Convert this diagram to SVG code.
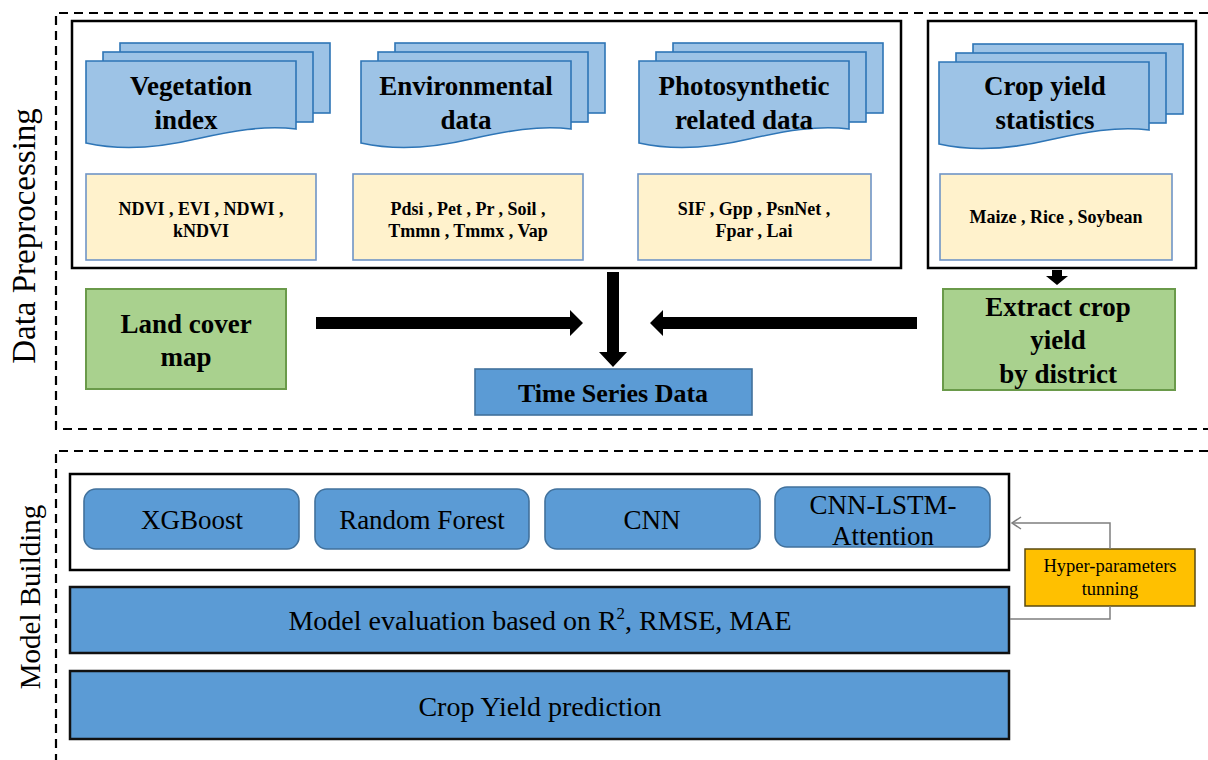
<svg xmlns="http://www.w3.org/2000/svg" width="1208" height="760" viewBox="0 0 1208 760">
<style>
.dash{fill:none;stroke:#000;stroke-width:2.2;stroke-dasharray:9 6}
.frame{fill:#fff;stroke:#000;stroke-width:2.5}
.doc{fill:#9dc3e6;stroke:#2e75b6;stroke-width:1.6}
.ybox{fill:#fff2cc;stroke:#6f94c6;stroke-width:1.6}
.green{fill:#a9d18e;stroke:#6a9a4a;stroke-width:2}
.blue{fill:#5b9bd5;stroke:#41719c;stroke-width:1.6}
.bar{fill:#5b9bd5;stroke:#111;stroke-width:2.5}
.hyper{fill:#ffc000;stroke:#5a4a10;stroke-width:1.5}
.tb{font-family:"Liberation Serif","Times New Roman",serif;font-weight:bold;fill:#000;text-anchor:middle}
.tr{font-family:"Liberation Serif","Times New Roman",serif;fill:#000;text-anchor:middle}
.h{font-size:27px}
.s{font-size:18px}
.m{font-size:27px}
.conn{fill:none;stroke:#7f7f7f;stroke-width:1.5}
</style>
<defs>
<g id="docs">
<rect class="doc" x="34" y="-18" width="210" height="70"/>
<rect class="doc" x="17" y="-9" width="210" height="70"/>
<path class="doc" d="M0,0 H210 V68 C178,64 146,70 110,78 C72,87 36,90 0,82 Z"/>
</g>
</defs>

<!-- section frames -->
<g id="sections">
<path class="dash" d="M1208,13 H56 V429 H1208"/>
<path class="dash" d="M1208,451 H56 V760"/>
<text class="tr" font-size="33" transform="translate(35,236) rotate(-90)">Data Preprocessing</text>
<text class="tr" font-size="29" transform="translate(40,597) rotate(-90)">Model Building</text>
</g>

<g id="input-frame">
<rect class="frame" x="72" y="21" width="829" height="247"/>
</g>
<g id="crop-frame">
<rect class="frame" x="928" y="21" width="268" height="247"/>
</g>

<g id="vegetation">
<use href="#docs" x="86" y="61"/>
<text class="tb h" x="191" y="95">Vegetation</text>
<text class="tb h" x="186" y="129">index</text>
</g>
<g id="environmental">
<use href="#docs" x="361" y="61"/>
<text class="tb h" x="466" y="95">Environmental</text>
<text class="tb h" x="466" y="129">data</text>
</g>
<g id="photosynthetic">
<use href="#docs" x="639" y="61"/>
<text class="tb h" x="744" y="95">Photosynthetic</text>
<text class="tb h" x="744" y="129">related data</text>
</g>
<g id="cropstats">
<use href="#docs" x="939" y="62"/>
<text class="tb h" x="1045" y="95">Crop yield</text>
<text class="tb h" x="1045" y="129">statistics</text>
</g>

<g id="veg-vars">
<rect class="ybox" x="86" y="174" width="230" height="86"/>
<text class="tb s" x="201" y="215">NDVI , EVI , NDWI ,</text>
<text class="tb s" x="201" y="237">kNDVI</text>
</g>
<g id="env-vars">
<rect class="ybox" x="353" y="174" width="230" height="86"/>
<text class="tb s" x="468" y="215">Pdsi , Pet , Pr , Soil ,</text>
<text class="tb s" x="468" y="237">Tmmn , Tmmx , Vap</text>
</g>
<g id="photo-vars">
<rect class="ybox" x="638" y="174" width="233" height="86"/>
<text class="tb s" x="754" y="215">SIF , Gpp , PsnNet ,</text>
<text class="tb s" x="754" y="237">Fpar , Lai</text>
</g>
<g id="crop-vars">
<rect class="ybox" x="940" y="174" width="232" height="86"/>
<text class="tb s" x="1056" y="223">Maize , Rice , Soybean</text>
</g>

<g id="landcover">
<rect class="green" x="86" y="289" width="200" height="100"/>
<text class="tb h" x="186" y="333">Land cover</text>
<text class="tb h" x="186" y="366">map</text>
</g>
<g id="extract">
<rect class="green" x="943" y="289" width="232" height="101"/>
<text class="tb h" x="1058" y="316">Extract crop</text>
<text class="tb h" x="1058" y="349">yield</text>
<text class="tb h" x="1058" y="383">by district</text>
</g>
<g id="timeseries">
<rect class="blue" x="475" y="369" width="277" height="46"/>
<text class="tb" font-size="26" x="613" y="402">Time Series Data</text>
</g>

<g id="model-frame">
<rect class="frame" x="70" y="474" width="939" height="96"/>
</g>
<g id="xgboost">
<rect class="blue" x="84" y="489" width="215" height="60" rx="12"/>
<text class="tr m" x="192" y="529">XGBoost</text>
</g>
<g id="randomforest">
<rect class="blue" x="315" y="489" width="214" height="60" rx="12"/>
<text class="tr m" x="422" y="529">Random Forest</text>
</g>
<g id="cnn">
<rect class="blue" x="545" y="489" width="215" height="60" rx="12"/>
<text class="tr m" x="652" y="529">CNN</text>
</g>
<g id="cnnlstm">
<rect class="blue" x="775" y="487" width="215" height="60" rx="12"/>
<text class="tr m" x="883" y="514">CNN-LSTM-</text>
<text class="tr m" x="883" y="545">Attention</text>
</g>
<g id="evaluation">
<rect class="bar" x="70" y="587" width="939" height="66"/>
<text class="tr" font-size="28" x="540" y="630">Model evaluation based on R<tspan font-size="17" dy="-11">2</tspan><tspan dy="11">, RMSE, MAE</tspan></text>
</g>
<g id="prediction">
<rect class="bar" x="70" y="671" width="939" height="68"/>
<text class="tr" font-size="28" x="540" y="716">Crop Yield prediction</text>
</g>
<g id="hyper">
<rect class="hyper" x="1025" y="549" width="170" height="57"/>
<text class="tr" font-size="18.5" x="1110" y="572">Hyper-parameters</text>
<text class="tr" font-size="18.5" x="1110" y="595">tunning</text>
</g>

<g id="connectors">
<polygon fill="#000" points="316,317 570,317 570,310 583,323 570,336 570,329 316,329"/>
<polygon fill="#000" points="917,317 663,317 663,310 650,323 663,336 663,329 917,329"/>
<polygon fill="#000" points="607,272 619,272 619,352 627,352 613,367 599,352 607,352"/>
<polygon fill="#000" points="1052,270 1062,270 1062,276 1068,276 1057,285 1046,276 1052,276"/>
<path class="conn" d="M1010,619 H1110 V606"/>
<path class="conn" d="M1110,549 V523 H1012"/>
<path class="conn" d="M1021,517 L1012,523 L1021,529"/>
</g>
</svg>
